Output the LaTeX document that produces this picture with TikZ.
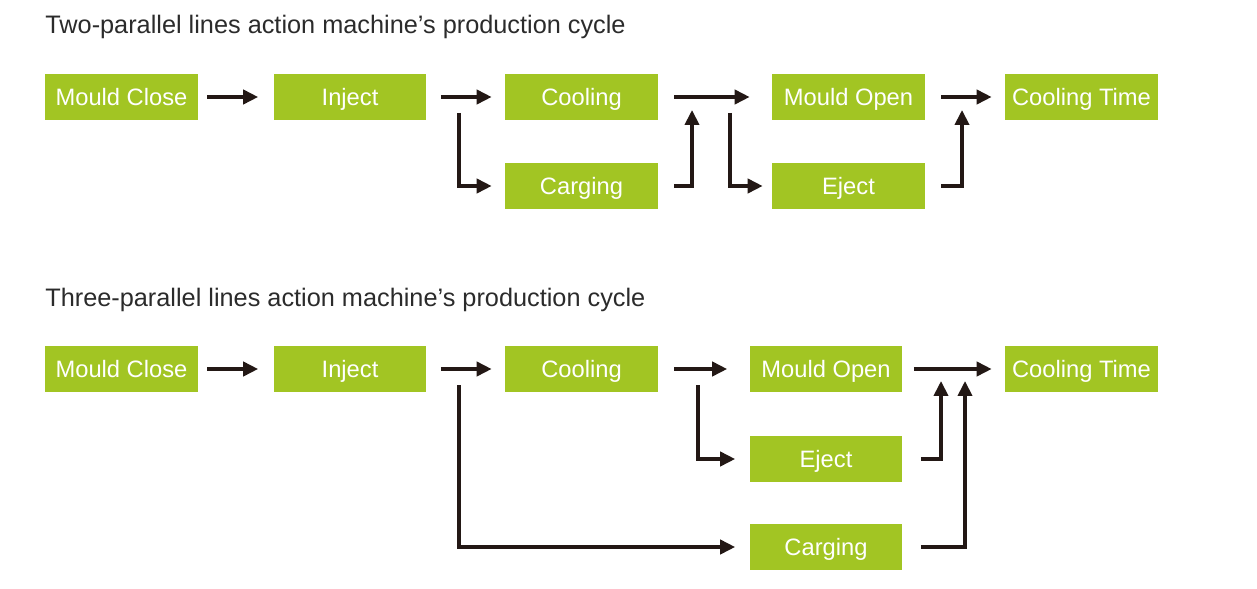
\documentclass[tikz,border=0pt]{standalone}
\usepackage{fontspec}
\setmainfont{Liberation Sans}
\usepackage{tikz}
\usetikzlibrary{arrows.meta, positioning, calc}
\usepackage{xcolor}
\definecolor{boxgreen}{HTML}{A2C523}
\definecolor{titlegray}{HTML}{2B2B2B}
\definecolor{arrowblack}{HTML}{231815}
\tikzset{
  stage/.style={fill=boxgreen, text=white, minimum width=3.06cm, minimum height=0.92cm, inner sep=0pt, text height=9.7pt, text depth=0pt, font=\fontsize{13.5}{16}\selectfont},
  heading/.style={anchor=west, inner sep=0pt, text=titlegray, text height=10.3pt, text depth=0pt, font=\fontsize{14.4}{17}\selectfont},
  flow/.style={draw=arrowblack, line width=2pt, -{Triangle[length=8.5pt,width=8pt]}}
}

\begin{document}
\begin{tikzpicture}[x=0.02cm, y=-0.02cm]
\useasboundingbox (0,0) rectangle (1257,588);

% two-parallel lines
\node[heading] (t1) at (45,24) {Two-parallel lines action machine’s production cycle};
\node[stage] (mc1) at (121.5,97) {Mould Close};
\node[stage] (inj1) at (350,97) {Inject};
\node[stage] (cool1) at (581.5,97) {Cooling};
\node[stage] (carg1) at (581.5,186) {Carging};
\node[stage] (mo1) at (848.5,97) {Mould Open};
\node[stage] (ej1) at (848.5,186) {Eject};
\node[stage] (ct1) at (1081.5,97) {Cooling Time};
\coordinate (j1) at (459,113);
\coordinate (j2) at (730,113);
\coordinate (m1) at (692,97);
\coordinate (m2) at (962,97);

\draw[flow, shorten <=0.18cm, shorten >=0.3cm] (mc1) -- (inj1);
\draw[flow, shorten <=0.28cm, shorten >=0.26cm] (inj1) -- (cool1);
\draw[flow, shorten >=0.26cm] (j1) |- (carg1);
\draw[flow, shorten <=0.32cm, shorten >=0.44cm] (cool1) -- (mo1);
\draw[flow, shorten <=0.32cm, shorten >=0.26cm] (carg1) -| (m1);
\draw[flow, shorten >=0.18cm] (j2) |- (ej1);
\draw[flow, shorten <=0.32cm, shorten >=0.26cm] (mo1) -- (ct1);
\draw[flow, shorten <=0.32cm, shorten >=0.26cm] (ej1) -| (m2);

% three-parallel lines
\node[heading] (t2) at (45,297) {Three-parallel lines action machine’s production cycle};
\node[stage] (mc2) at (121.5,369) {Mould Close};
\node[stage] (inj2) at (350,369) {Inject};
\node[stage] (cool2) at (581.5,369) {Cooling};
\node[stage] (mo2) at (826,369) {Mould Open};
\node[stage] (ej2) at (826,459) {Eject};
\node[stage] (carg2) at (826,547) {Carging};
\node[stage] (ct2) at (1081.5,369) {Cooling Time};
\coordinate (j3) at (459,385);
\coordinate (j4) at (698,385);
\coordinate (m3) at (941,369);
\coordinate (m4) at (965,369);

\draw[flow, shorten <=0.18cm, shorten >=0.3cm] (mc2) -- (inj2);
\draw[flow, shorten <=0.28cm, shorten >=0.26cm] (inj2) -- (cool2);
\draw[flow, shorten >=0.28cm] (j3) |- (carg2);
\draw[flow, shorten <=0.32cm, shorten >=0.44cm] (cool2) -- (mo2);
\draw[flow, shorten >=0.28cm] (j4) |- (ej2);
\draw[flow, shorten <=0.22cm, shorten >=0.26cm] (mo2) -- (ct2);
\draw[flow, shorten <=0.36cm, shorten >=0.24cm] (ej2) -| (m3);
\draw[flow, shorten <=0.36cm, shorten >=0.24cm] (carg2) -| (m4);
\end{tikzpicture}
\end{document}
